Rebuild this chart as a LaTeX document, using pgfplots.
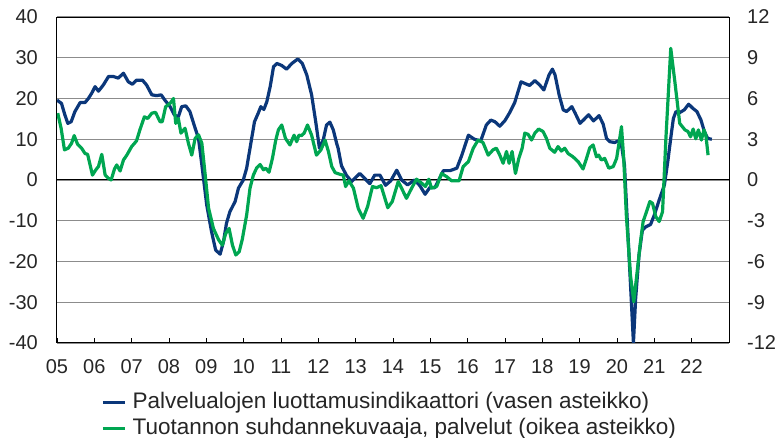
\documentclass[border=0pt]{standalone}
\usepackage{fontspec}
\setmainfont{Liberation Sans}
\usepackage{pgfplots}
\usepackage{pgfplotstable}
\pgfplotsset{compat=1.18}

\definecolor{indblue}{HTML}{0B377A}
\definecolor{indgreen}{HTML}{00A651}
\definecolor{gridgray}{HTML}{8C8C8C}
\definecolor{txt}{HTML}{262626}

% Palvelualojen luottamusindikaattori (vasen asteikko)
\pgfplotstableread{
x y
2005.00 19.6
2005.12 18.8
2005.21 16.0
2005.29 13.9
2005.38 14.3
2005.48 16.8
2005.62 19.0
2005.75 19.0
2005.84 20.0
2005.93 21.3
2006.02 22.9
2006.11 21.8
2006.24 23.3
2006.38 25.4
2006.51 25.4
2006.64 25.0
2006.78 26.2
2006.91 24.1
2007.02 23.5
2007.13 24.5
2007.29 24.5
2007.40 23.3
2007.54 20.9
2007.67 20.7
2007.79 20.9
2007.89 19.6
2008.03 18.0
2008.14 16.0
2008.25 15.5
2008.34 18.0
2008.45 18.2
2008.56 16.8
2008.68 13.3
2008.79 10.2
2008.88 3.7
2009.01 -6.1
2009.14 -12.7
2009.25 -17.2
2009.37 -18.2
2009.46 -15.1
2009.54 -10.6
2009.63 -7.8
2009.77 -5.3
2009.86 -2.0
2009.99 0.0
2010.08 2.9
2010.17 7.8
2010.29 14.3
2010.39 16.4
2010.46 18.0
2010.54 17.3
2010.62 19.2
2010.71 22.9
2010.80 27.8
2010.89 28.6
2011.02 28.1
2011.15 27.2
2011.29 28.6
2011.45 29.7
2011.57 28.6
2011.69 25.8
2011.82 20.9
2011.93 14.3
2012.03 7.8
2012.13 9.8
2012.22 13.5
2012.31 14.2
2012.40 12.3
2012.49 9.0
2012.53 7.8
2012.62 3.5
2012.75 1.2
2012.89 -0.4
2013.11 1.6
2013.24 0.4
2013.38 -0.9
2013.51 1.2
2013.65 1.2
2013.80 -1.3
2013.94 -0.2
2014.10 2.4
2014.23 0.0
2014.39 -1.2
2014.58 0.0
2014.72 -1.4
2014.86 -3.5
2014.99 -1.8
2015.12 -1.9
2015.35 2.3
2015.53 2.3
2015.71 2.9
2015.84 6.0
2016.02 11.0
2016.18 10.0
2016.35 9.6
2016.50 13.5
2016.62 14.7
2016.73 14.3
2016.86 13.2
2017.00 14.6
2017.13 16.6
2017.26 19.0
2017.43 24.1
2017.53 23.7
2017.66 23.2
2017.80 24.4
2017.93 23.3
2018.04 22.1
2018.18 25.8
2018.27 27.2
2018.34 25.8
2018.45 20.9
2018.56 17.2
2018.65 16.8
2018.79 18.0
2018.88 16.4
2019.01 13.9
2019.10 14.7
2019.24 16.0
2019.37 14.5
2019.52 15.8
2019.63 13.7
2019.72 10.2
2019.81 9.4
2019.94 9.2
2020.03 9.6
2020.12 8.6
2020.20 3.7
2020.29 -12.7
2020.38 -29.0
2020.44 -40.0
2020.50 -29.0
2020.59 -18.4
2020.68 -12.3
2020.77 -11.5
2020.90 -10.9
2021.00 -8.6
2021.13 -4.9
2021.27 -1.2
2021.36 4.5
2021.45 11.0
2021.51 15.1
2021.58 16.8
2021.69 16.6
2021.80 17.2
2021.92 18.6
2022.03 17.6
2022.14 16.8
2022.25 14.7
2022.34 11.9
2022.43 10.2
2022.54 10.0
}\luottamus

% Tuotannon suhdannekuvaaja, palvelut (oikea asteikko)
\pgfplotstableread{
x y
2005.02 4.92
2005.11 3.81
2005.20 2.22
2005.30 2.34
2005.39 2.70
2005.46 3.27
2005.55 2.64
2005.66 2.34
2005.75 1.95
2005.82 1.89
2005.95 0.36
2006.04 0.75
2006.11 0.99
2006.20 1.89
2006.29 0.36
2006.38 0.12
2006.45 0.00
2006.54 0.81
2006.60 1.11
2006.69 0.66
2006.78 1.47
2006.87 1.83
2007.00 2.46
2007.13 2.88
2007.22 3.69
2007.34 4.65
2007.43 4.53
2007.54 4.92
2007.64 4.98
2007.76 4.29
2007.82 4.29
2007.91 5.40
2008.03 5.64
2008.12 6.00
2008.18 4.17
2008.25 4.53
2008.32 3.45
2008.43 3.81
2008.52 2.70
2008.61 1.83
2008.70 3.06
2008.79 3.33
2008.88 2.70
2008.97 0.36
2009.06 -2.07
2009.19 -3.57
2009.33 -4.41
2009.43 -4.80
2009.52 -3.93
2009.61 -3.57
2009.70 -4.80
2009.79 -5.52
2009.88 -5.28
2009.96 -4.41
2010.08 -2.58
2010.17 -0.60
2010.26 0.36
2010.35 0.90
2010.44 1.14
2010.53 0.75
2010.59 0.87
2010.68 0.57
2010.77 1.59
2010.86 2.94
2010.93 3.69
2011.02 4.05
2011.12 3.06
2011.24 2.58
2011.35 3.30
2011.42 2.82
2011.48 3.30
2011.55 3.27
2011.62 3.45
2011.71 4.05
2011.82 3.30
2011.95 1.83
2012.07 2.22
2012.18 2.94
2012.27 2.10
2012.36 0.99
2012.45 0.54
2012.58 0.42
2012.67 0.36
2012.73 -0.48
2012.82 -0.06
2012.94 -0.60
2013.07 -2.10
2013.20 -2.82
2013.32 -1.95
2013.45 -0.48
2013.56 -0.57
2013.68 -0.42
2013.86 -2.04
2013.98 -1.59
2014.14 -0.12
2014.23 -0.60
2014.36 -1.35
2014.50 -0.60
2014.63 0.06
2014.77 -0.24
2014.87 -0.48
2014.96 0.06
2015.03 -0.60
2015.17 -0.48
2015.30 0.48
2015.44 0.24
2015.57 -0.06
2015.77 -0.06
2015.88 0.99
2016.02 1.35
2016.15 2.34
2016.28 2.94
2016.41 2.76
2016.55 1.83
2016.68 2.22
2016.77 2.34
2016.86 1.83
2016.95 1.23
2017.04 2.10
2017.11 1.23
2017.19 2.10
2017.28 0.48
2017.37 1.59
2017.46 2.34
2017.53 3.45
2017.62 3.36
2017.71 2.94
2017.80 3.45
2017.90 3.75
2018.02 3.57
2018.11 3.06
2018.20 2.34
2018.33 2.04
2018.42 2.46
2018.51 2.13
2018.60 2.34
2018.69 1.95
2018.82 1.71
2018.96 1.35
2019.09 0.81
2019.18 1.56
2019.27 2.37
2019.36 2.58
2019.45 1.71
2019.51 1.83
2019.58 1.47
2019.67 1.59
2019.78 0.87
2019.90 0.99
2019.99 1.59
2020.06 2.82
2020.12 3.93
2020.18 1.59
2020.25 -2.58
2020.36 -6.99
2020.45 -8.97
2020.54 -6.75
2020.63 -4.53
2020.70 -3.06
2020.79 -2.34
2020.88 -1.59
2020.95 -1.71
2021.04 -2.70
2021.13 -3.06
2021.22 -2.34
2021.31 3.06
2021.44 9.69
2021.55 7.23
2021.68 4.17
2021.82 3.69
2021.90 3.57
2021.97 3.18
2022.04 3.75
2022.11 3.03
2022.18 3.69
2022.26 2.94
2022.33 3.69
2022.38 3.30
2022.44 1.83
}\suhdanne

\begin{document}
\begin{tikzpicture}[font=\fontsize{20}{23}\selectfont, text=txt]
\pgfplotsset{
  every axis/.append style={
    scale only axis, width=672pt, height=326pt,
    xmin=2005, xmax=2023,
    /pgf/number format/assume math mode=true,
    tick label style={font=\fontsize{20}{23}\selectfont, text=txt},
  },
}
\begin{axis}[
  at={(0,0)}, anchor=south west,
  ymin=-40, ymax=40, ytick={-40,-30,...,40},
  xtick={2005,...,2022},
  xticklabels={05,06,07,08,09,10,11,12,13,14,15,16,17,18,19,20,21,22},
  xtick pos=bottom, ytick pos=left,
  tick align=inside,
  major tick length=5pt,
  y tick style={draw=none},
  x tick style={black, line width=0.8pt},
  xticklabel style={yshift=-13pt},
  yticklabel style={inner sep=0pt, xshift=-19pt},
  ymajorgrids,
  grid style={gridgray, line width=1.1pt},
  extra y ticks={0}, extra y tick labels={},
  extra y tick style={grid style={black, line width=1pt}},
  axis line style={black, line width=1pt},
]
\addplot[indblue, line width=3.2pt, line join=round] table {\luottamus};
\end{axis}
\begin{axis}[
  at={(0,0)}, anchor=south west,
  ymin=-12, ymax=12, ytick={-12,-9,...,12},
  axis x line=none, axis y line*=right,
  y tick style={draw=none},
  yticklabel style={inner sep=0pt, xshift=18pt},
  axis line style={black, line width=1pt},
  legend style={draw=none, fill=none, at={(0.061,-0.144)}, anchor=north west,
    font=\fontsize{22.5}{25}\selectfont, text=txt, row sep=5pt,
    nodes={inner sep=0pt, text height=16pt, text depth=5pt}, column sep=6pt},
  legend cell align=left,
  legend image code/.code={\draw[#1, line width=3.5pt] (0pt,0pt) -- (22pt,0pt);},
]
\addlegendimage{indblue}
\addlegendentry{Palvelualojen luottamusindikaattori (vasen asteikko)}
\addplot[indgreen, line width=3.2pt, line join=round] table {\suhdanne};
\addlegendentry{Tuotannon suhdannekuvaaja, palvelut (oikea asteikko)}
\end{axis}
\pgfresetboundingbox
\path (-57pt,-95pt) rectangle (720pt,343pt);
\end{tikzpicture}
\end{document}
